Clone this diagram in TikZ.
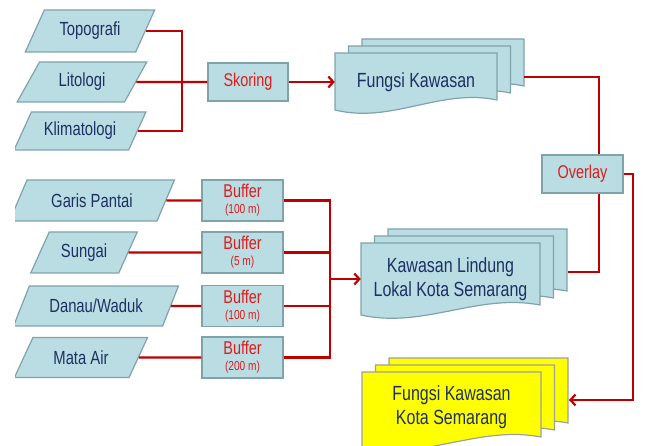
\documentclass[tikz,border=0pt]{standalone}
\usepackage{fontspec}
\setmainfont[FakeStretch=0.78]{Liberation Sans}
\usetikzlibrary{shapes.geometric}
\usetikzlibrary{arrows.meta}
\definecolor{boxfill}{RGB}{185,221,227}
\definecolor{boxline}{RGB}{128,163,170}
\definecolor{txtblue}{RGB}{30,48,98}
\definecolor{linered}{RGB}{192,0,0}
\definecolor{txtred}{RGB}{222,28,28}
\definecolor{docyellow}{RGB}{255,255,0}
% one sheet: x1 y1 x2 y2 style
\newcommand{\docsheet}[5]{\filldraw[#5] ({#1},{#2}) -- ({#3},{#2}) -- ({#3},{(#4)-10}) .. controls ({(#3)-0.35*((#3)-(#1))},{(#4)-22}) and ({(#1)+0.35*((#3)-(#1))},{(#4)+14}) .. ({#1},{#4}) -- cycle;}
\newcommand{\docstack}[5]{\docsheet{(#1)+27}{(#2)-14}{(#3)+27}{(#4)-14}{#5} \docsheet{(#1)+13.5}{(#2)-7}{(#3)+13.5}{(#4)-7}{#5} \docsheet{#1}{#2}{#3}{#4}{#5}}

\begin{document}
\begin{tikzpicture}[x=1pt, y=-1pt,
    data/.style={trapezium, trapezium left angle=60, trapezium right angle=120, trapezium stretches=true,
      draw=boxline, line width=1.2pt, fill=boxfill, text=txtblue, font=\fontsize{19}{21}\selectfont},
    proc/.style={rectangle, draw=boxline, line width=1.2pt, fill=boxfill, text=txtred, align=center,
      minimum width=81pt, minimum height=41pt, inner sep=1pt, font=\fontsize{18.5}{18}\selectfont},
    doctext/.style={text=txtblue, align=center, font=\fontsize{20.5}{24}\selectfont},
    sheetblue/.style={fill=boxfill, draw=boxline, line width=1.2pt},
    sheetyellow/.style={fill=docyellow, draw=gray!75, line width=1.2pt},
    link/.style={draw=linered, line width=2.2pt},
    arr/.style={-{Straight Barb[length=5pt,width=11pt]}}]
    \useasboundingbox (0,0) rectangle (651,446);

    % input data
    \begin{scope}
        \clip (15,0) rectangle (651,446);
        \node[data, minimum width=130pt, minimum height=42pt] (topo) at (90,31) {Topografi};
        \node[data, minimum width=130pt, minimum height=40pt] (lito) at (82,82) {Litologi};
        \node[data, minimum width=132pt, minimum height=38pt] (klima) at (80,131) {Klimatologi};
        \node[data, minimum width=165pt, minimum height=41pt] (garis) at (92,200.5) {Garis Pantai};
        \node[data, minimum width=107pt, minimum height=41pt] (sungai) at (84,252.5) {Sungai};
        \node[data, minimum width=165pt, minimum height=40pt] (danau) at (96,306) {Danau/Waduk};
        \node[data, minimum width=134pt, minimum height=40pt] (mata) at (81,357.5) {Mata Air};
    \end{scope}

    % processes
    \node[proc, minimum width=80pt, minimum height=38pt] (skor) at (248,82) {Skoring};
    \node[proc] (buf1) at (242.5,200.5) {Buffer\\[-2pt]{\fontsize{13}{13}\selectfont(100 m)}};
    \node[proc] (buf2) at (242.5,252.5) {Buffer\\[-2pt]{\fontsize{13}{13}\selectfont(5 m)}};
    \node[proc] (buf3) at (242.5,306) {Buffer\\[-2pt]{\fontsize{13}{13}\selectfont(100 m)}};
    \node[proc] (buf4) at (242.5,357.5) {Buffer\\[-2pt]{\fontsize{13}{13}\selectfont(200 m)}};
    \node[proc, minimum height=38pt] (ov) at (582.5,174) {Overlay};

    % document stacks
    \docstack{335}{53}{497}{110}{sheetblue}
    \docstack{361}{243}{540}{315}{sheetblue}
    \docstack{362}{372}{541}{447}{sheetyellow}
    \node[doctext, minimum width=162pt] (fk) at (416,82) {Fungsi Kawasan};
    \node[doctext, minimum width=179pt] (kl) at (450.5,279) {Kawasan Lindung\\Lokal Kota Semarang};
    \node[doctext, minimum width=179pt] (yk) at (451.5,407) {Fungsi Kawasan\\Kota Semarang};
    \coordinate (fkback) at (524,77);
    \coordinate (klback) at (568,272);
    \coordinate (ykback) at (569,400);

    % connectors
    \coordinate (jn1) at (182,82);
    \coordinate (jn2) at (330,279);
    \draw[link] (topo.east) -| (jn1);
    \draw[link] (klima.east) -| (jn1);
    \draw[link] (lito.east) -- (skor.west);
    \draw[link, arr] (skor.east) -- (fk.west);
    \draw[link] (garis.east) -- (buf1.west);
    \draw[link] (sungai.east) -- (buf2.west);
    \draw[link] (danau.east) -- (buf3.west);
    \draw[link] (mata.east) -- (buf4.west);
    \draw[link] (buf1.east) -| (jn2);
    \draw[link] (buf4.east) -| (jn2);
    \draw[link] (buf2.east) -- (buf2.east -| jn2);
    \draw[link] (buf3.east) -- (buf3.east -| jn2);
    \draw[link, arr] (jn2) -- (kl.west);
    \draw[link] (fkback) -| ([xshift=16.5pt]ov.north);
    \draw[link] (klback) -| ([xshift=16.5pt]ov.south);
    \draw[link, arr] (ov.east) -- ++(9,0) |- (ykback);
\end{tikzpicture}
\end{document}
